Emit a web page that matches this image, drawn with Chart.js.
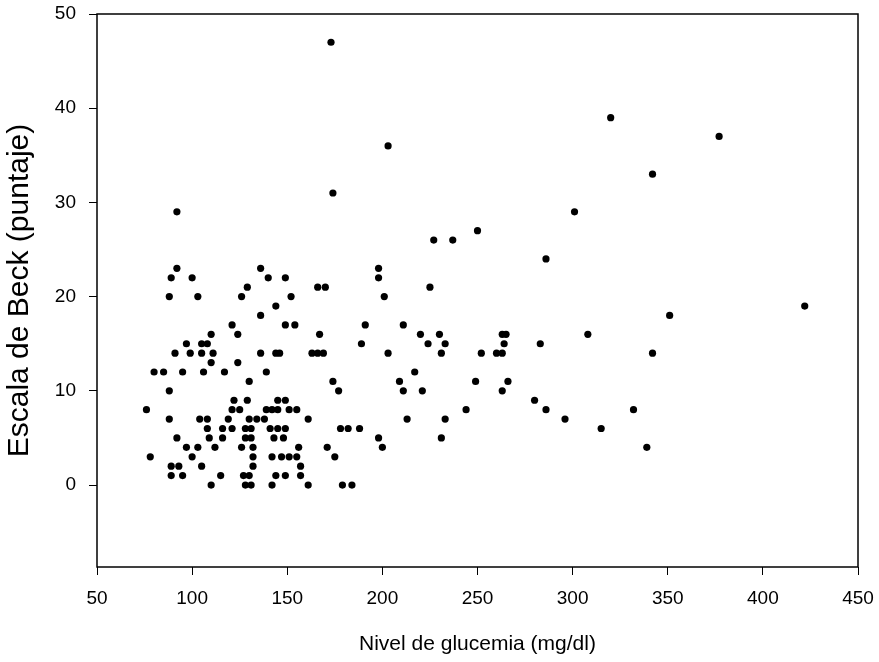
<!DOCTYPE html>
<html lang="es">
<head>
  <meta charset="UTF-8" />
  <title>Nivel de glucemia vs Escala de Beck</title>
  <style>
    body { margin:0; background:#fff; }
    #wrap { width:879px; height:662px; }
  </style>
  <script src="https://cdn.jsdelivr.net/npm/chart.js"></script>
</head>
<body>
  <div id="wrap"><canvas id="scatter" width="879" height="662"></canvas></div>

  <script>
    const beckScores = [47, 39, 37, 36, 33, 31, 29, 27, 26, 24, 23, 22, 21, 20, 19, 18, 17, 16, 15, 14, 13, 12, 11, 10, 9, 8, 7, 6, 5, 4, 3, 2, 1, 0];
    const glucemiaByScore = [
      [173], [320], [377], [203], [342], [174], [92, 301], [250], [227, 237], [286],
      [92, 136, 198], [89, 100, 140, 149, 198], [129, 166, 170, 225], [88, 103, 126, 152, 201],
      [144, 422], [136, 351], [121, 149, 154, 191, 211],
      [110, 124, 167, 220, 230, 263, 265, 308],
      [97, 105, 108, 189, 224, 233, 264, 283],
      [91, 99, 105, 111, 136, 144, 146, 163, 166, 169, 203, 231, 252, 260, 263, 342],
      [110, 124], [80, 85, 95, 106, 117, 139, 217],
      [130, 174, 209, 249, 266], [88, 177, 211, 221, 263], [122, 129, 145, 149, 280],
      [76, 121, 125, 139, 142, 145, 151, 155, 244, 286, 332],
      [88, 104, 108, 119, 130, 134, 138, 161, 213, 233, 296],
      [108, 116, 121, 128, 131, 141, 145, 149, 178, 182, 188, 315],
      [92, 109, 116, 128, 131, 143, 148, 198, 231],
      [97, 103, 112, 126, 132, 156, 171, 200, 339],
      [78, 100, 132, 142, 147, 151, 155, 175],
      [89, 93, 105, 132, 157],
      [89, 95, 115, 127, 130, 144, 149, 157],
      [110, 128, 131, 142, 161, 179, 184]
    ];
    const xTicks = [50, 100, 150, 200, 250, 300, 350, 400, 450];
    const yTicks = [0, 10, 20, 30, 40, 50];

    const points = [];
    beckScores.forEach((b, i) => glucemiaByScore[i].forEach(g => points.push({ x: g, y: b })));

    const font = "'Liberation Sans', Arial, sans-serif";

    const boxPlugin = {
      id: 'box',
      afterDraw(chart) {
        const { ctx, chartArea: a } = chart;
        ctx.save();
        ctx.strokeStyle = '#000';
        ctx.lineWidth = 1.5;
        ctx.strokeRect(a.left, a.top, a.right - a.left, a.bottom - a.top);
        ctx.restore();
      }
    };

    new Chart(document.getElementById('scatter'), {
      type: 'scatter',
      data: {
        datasets: [{
          data: points,
          backgroundColor: '#000',
          borderWidth: 0,
          pointRadius: 3.6,
          pointHoverRadius: 3.6
        }]
      },
      options: {
        responsive: false,
        animation: false,
        devicePixelRatio: 1,
        layout: { padding: { top: 14, right: 21, left: 0, bottom: 0 } },
        plugins: { legend: { display: false }, tooltip: { enabled: false } },
        scales: {
          x: {
            type: 'linear', min: 50, max: 450,
            afterBuildTicks: s => { s.ticks = xTicks.map(v => ({ value: v })); },
            afterFit: s => { s.height = 95; s.paddingLeft = 0; s.paddingRight = 0; },
            grid: { drawOnChartArea: false, drawTicks: true, tickLength: 8, color: '#000' },
            border: { display: false },
            ticks: { color: '#000', padding: 12, maxRotation: 0, font: { family: font, size: 19 } },
            title: { display: true, text: 'Nivel de glucemia (mg/dl)', color: '#000',
                     padding: { top: 0, bottom: 5 }, font: { family: font, size: 21 } }
          },
          y: {
            type: 'linear', min: -8.7, max: 50,
            afterBuildTicks: s => { s.ticks = yTicks.map(v => ({ value: v })); },
            afterFit: s => { s.width = 97; s.paddingTop = 0; s.paddingBottom = 0; },
            grid: { drawOnChartArea: false, drawTicks: true, tickLength: 8, color: '#000' },
            border: { display: false },
            ticks: { color: '#000', padding: 13, font: { family: font, size: 19 } },
            title: { display: true, text: 'Escala de Beck (puntaje)', color: '#000',
                     padding: { top: 2, bottom: 0 }, font: { family: font, size: 30 } }
          }
        }
      },
      plugins: [boxPlugin]
    });
  </script>
</body>
</html>
